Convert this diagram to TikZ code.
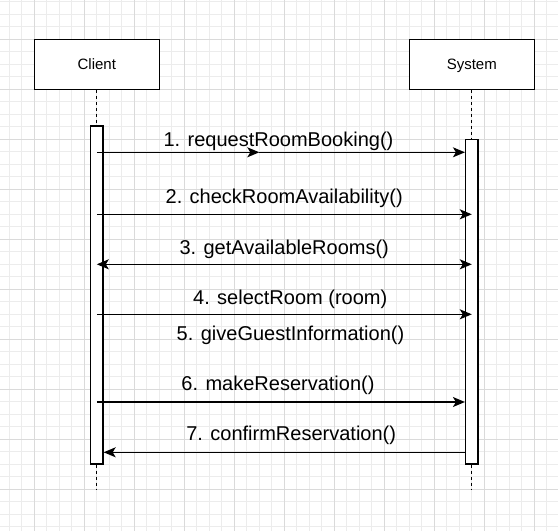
\documentclass[tikz,border=0pt]{standalone}
\usepackage{fontspec}
\setmainfont{Liberation Sans}
\usetikzlibrary{arrows.meta}
\definecolor{gridminor}{RGB}{236,236,236}
\definecolor{gridmajor}{RGB}{218,218,218}
\tikzset{
  lifebox/.style={draw=black, line width=1.25pt, fill=white, minimum width=125pt, minimum height=50pt, inner sep=0pt, font=\fontsize{15}{18}\selectfont, text height=10.7pt, text depth=0pt},
  actbox/.style={draw=black, line width=1.25pt, fill=white, minimum width=12.5pt, inner sep=0pt},
  lifeline/.style={line width=1pt, dash pattern=on 3pt off 3pt},
  msg/.style={line width=1.25pt, -{Stealth[length=12pt, width=10pt, inset=3pt]}},
  msgboth/.style={line width=1.25pt, {Stealth[length=12pt, width=10pt, inset=3pt]}-{Stealth[length=12pt, width=10pt, inset=3pt]}},
  plainline/.style={line width=1.25pt},
  msglabel/.style={anchor=base, inner sep=0pt, font=\fontsize{20}{24}\selectfont}
}
\begin{document}
\begin{tikzpicture}[x=1pt, y=-1pt]
\useasboundingbox (0,0) rectangle (558,531);
\clip (0,0) rectangle (558,531);
\fill[white] (0,0) rectangle (558,531);
% grid
\foreach \i in {0,...,44} {
  \draw[gridminor, line width=1pt] ({9.3+12.5*\i},0) -- ({9.3+12.5*\i},531);
  \draw[gridminor, line width=1pt] (0,{1.8+12.5*\i}) -- (558,{1.8+12.5*\i});
}
\foreach \i in {0,...,10} {
  \draw[gridmajor, line width=1pt] ({34.3+50*\i},0) -- ({34.3+50*\i},531);
  \draw[gridmajor, line width=1pt] (0,{39.3+50*\i}) -- (558,{39.3+50*\i});
}
% participants
\node[lifebox] (client) at (96.8,64.3) {Client};
\node[lifebox] (system) at (471.8,64.3) {System};
% activations
\node[actbox, minimum height=338pt] (cact) at (96.8,295) {};
\node[actbox, minimum height=324.7pt] (sact) at (471.8,301.65) {};
\coordinate (cend) at (96.8,489);
\coordinate (send) at (471.8,489);
% lifelines
\draw[lifeline] (client.south) -- (cact.north);
\draw[lifeline] (cact.south) -- (cend);
\draw[lifeline] (system.south) -- (sact.north);
\draw[lifeline] (sact.south) -- (send);
% messages
\coordinate (m1mid) at (259.3,152.3);
\draw[msg] (cact.center |- 0,152.3) -- (m1mid);
\draw[msg] (m1mid) -- (sact.west |- 0,152.3);
\draw[msg] (cact.center |- 0,214.3) -- (sact.center |- 0,214.3);
\draw[msgboth] (cact.center |- 0,264.3) -- (sact.center |- 0,264.3);
\draw[msg] (cact.center |- 0,314.3) -- (sact.center |- 0,314.3);
\draw[msg] (cact.center |- 0,402) -- (sact.west |- 0,402);
\draw[msg] (sact.west |- 0,452.3) -- (cact.east |- 0,452.3);
% labels
\node[msglabel] (l1) at (278.5,146.5) {1. requestRoomBooking()};
\node[msglabel] (l2) at (284.2,203.3) {2. checkRoomAvailability()};
\node[msglabel] (l3) at (284.2,254.2) {3. getAvailableRooms()};
\node[msglabel] (l4) at (290.2,304) {4. selectRoom (room)};
\node[msglabel] (l5) at (290.5,340) {5. giveGuestInformation()};
\node[msglabel] (l6) at (278,390.7) {6. makeReservation()};
\node[msglabel] (l7) at (291.2,440.7) {7. confirmReservation()};
\end{tikzpicture}
\end{document}
